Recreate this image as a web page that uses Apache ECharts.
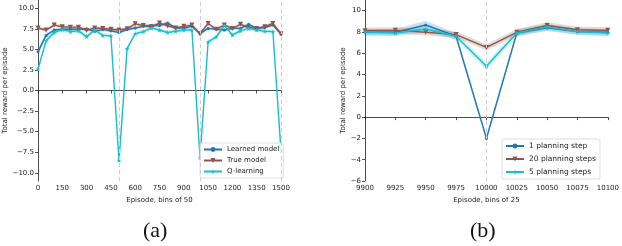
<!DOCTYPE html>
<html>
<head>
<meta charset="utf-8">
<script src="https://cdn.jsdelivr.net/npm/echarts@6/dist/echarts.min.js"></script>
<style>
html,body{margin:0;padding:0;background:#fff;}
#chart{width:622px;height:246px;}
</style>
</head>
<body>
<div id="chart"></div>
<script>
// ---------- Panel (a) data ----------
const episodesA = [0,50,100,150,200,250,300,350,400,450,500,550,600,650,700,750,800,850,900,950,1000,1050,1100,1150,1200,1250,1300,1350,1400,1450,1500];
const learnedModel = [4.7,6.7,7.35,7.45,7.45,7.45,7.5,7.2,7.4,7.25,7.05,7.4,7.6,7.8,7.9,7.9,8.2,7.6,7.6,7.8,6.9,7.55,7.45,7.35,7.55,7.55,8.05,7.55,7.65,7.95,6.85];
const trueModel    = [7.6,7.35,7.95,7.75,7.7,7.7,7.3,7.6,7.55,7.45,7.35,7.5,8.1,7.9,7.75,8.2,7.85,7.6,7.8,7.95,6.9,8.15,7.45,7.95,7.55,8.05,7.65,7.55,7.75,8.15,6.9];
const qLearning    = [2.6,6.05,7.05,7.4,7.15,7.25,6.55,7.35,6.7,6.65,-8.5,5.1,6.9,7.15,7.6,7.35,7.05,7.2,7.35,7.35,-8.2,5.9,6.5,7.9,6.75,7.25,7.55,7.35,7.2,7.15,-7.4];
const learnedSpread = [0.4,0.3,0.2,0.2,0.2,0.2,0.2,0.2,0.2,0.2,0.2,0.2,0.2,0.2,0.2,0.2,0.2,0.2,0.2,0.2,0.2,0.2,0.2,0.2,0.2,0.2,0.2,0.2,0.2,0.2,0.2];
const trueSpread    = [0.2,0.2,0.2,0.2,0.2,0.2,0.2,0.2,0.2,0.2,0.2,0.2,0.2,0.2,0.2,0.2,0.2,0.2,0.2,0.2,0.2,0.2,0.2,0.2,0.2,0.2,0.2,0.2,0.2,0.2,0.2];
const qSpread       = [0.3,0.3,0.25,0.25,0.25,0.25,0.25,0.25,0.25,0.25,0.3,0.3,0.25,0.25,0.25,0.25,0.25,0.25,0.25,0.25,0.3,0.3,0.25,0.25,0.25,0.25,0.25,0.25,0.25,0.25,0.3];
const namesA = ['Learned model','True model','Q-learning'];
const vlinesA = [500,1000,1500];
const yTicksA = [-10,-7.5,-5,-2.5,0,2.5,5,7.5,10];

// ---------- Panel (b) data ----------
const episodesB = [9900,9925,9950,9975,10000,10025,10050,10075,10100];
const plan1  = [7.97,7.97,8.65,7.6,-2.0,7.9,8.38,8.03,7.97];
const plan20 = [8.12,8.15,7.97,7.75,6.55,7.97,8.6,8.2,8.15];
const plan5  = [8.0,7.9,8.28,7.6,4.78,7.9,8.47,8.03,7.9];
const plan1Spread  = [0.3,0.3,0.4,0.3,0.3,0.3,0.3,0.3,0.3];
const plan20Spread = [0.3,0.3,0.3,0.3,0.3,0.3,0.3,0.3,0.3];
const plan5Spread  = [0.3,0.3,0.3,0.3,0.35,0.3,0.3,0.3,0.3];
const namesB = ['1 planning step','20 planning steps','5 planning steps'];
const vlinesB = [10000];
const yTicksB = [-6,-4,-2,0,2,4,6,8,10];

const BLUE='#1f77b4', BROWN='#8c564b', CYAN='#17becf';
const STAR='path://M50,0 L61,35 L98,35 L68,57 L79,91 L50,70 L21,91 L32,57 L2,35 L39,35 Z';
const FONT='DejaVu Sans';
const minus = s => String(s).replace('-', '\u2212');

function pairs(xs, ys){ return xs.map((x,i)=>[x, ys[i]]); }

// confidence band drawn as one polygon through the axes' scales
function bandSeries(idx, xs, ys, sp, color){
  return {
    type:'custom', xAxisIndex:idx, yAxisIndex:idx, silent:true, z:1,
    data: xs.map((x,i)=>[x, ys[i]-sp[i], ys[i]+sp[i]]),
    encode:{x:0, y:[1,2]},
    renderItem:function(params, api){
      if (params.dataIndexInside !== 0) return null;
      const n = params.dataInsideLength;
      const up = [], lo = [];
      for (let i=0;i<n;i++){
        const x = api.value(0,i);
        up.push(api.coord([x, api.value(2,i)]));
        lo.push(api.coord([x, api.value(1,i)]));
      }
      return {type:'polygon', shape:{points: up.concat(lo.reverse())},
        style:{fill:color, opacity:0.22}};
    }
  };
}

function lineSeries(idx, name, xs, ys, color, symbol, size, rotate){
  return {
    type:'line', name:name, xAxisIndex:idx, yAxisIndex:idx,
    data: pairs(xs, ys), symbol:symbol, symbolSize:size, symbolRotate:rotate||0,
    showAllSymbol:true,
    lineStyle:{color:color, width:1.4}, itemStyle:{color:color, borderWidth:0},
    emphasis:{disabled:true}, z:3
  };
}

function vline(idx, xs){
  return {type:'line', xAxisIndex:idx, yAxisIndex:idx, data:[], silent:true,
    markLine:{silent:true, symbol:'none', label:{show:false},
      lineStyle:{color:'#cfcfcf', type:[4,3], width:1},
      data: xs.map(v=>({xAxis:v}))}, z:0};
}

const axisLabelStyle = {fontFamily:FONT, fontSize:7, color:'#222'};

function xAxisCfg(idx, min, max, interval, name){
  return {type:'value', gridIndex:idx, min:min, max:max, interval:interval,
    name:name, nameLocation:'middle', nameGap:13,
    nameTextStyle:{fontFamily:FONT, fontSize:7, color:'#222'},
    axisLine:{lineStyle:{color:'#222', width:0.8}},
    axisTick:{show:true, inside:false, length:3, lineStyle:{color:'#222', width:0.8}},
    axisLabel:Object.assign({margin:4, showMinLabel:true, showMaxLabel:true, formatter:v=>String(v)}, axisLabelStyle),
    splitLine:{show:false}};
}

function yAxisCfg(idx, min, max, ticks, fmt, gap){
  return {type:'value', gridIndex:idx, min:min, max:max,
    name:'Total reward per episode', nameLocation:'middle', nameGap:gap,
    nameTextStyle:{fontFamily:FONT, fontSize:7, color:'#222'},
    axisLine:{show:true, lineStyle:{color:'#222', width:0.8}},
    axisTick:{show:true, length:3, customValues:ticks, lineStyle:{color:'#222', width:0.8}},
    axisLabel:Object.assign({margin:4, customValues:ticks, formatter:fmt}, axisLabelStyle),
    splitLine:{show:false}};
}

const series = [];
series.push(vline(0, vlinesA));
series.push(bandSeries(0, episodesA, learnedModel, learnedSpread, BLUE));
series.push(bandSeries(0, episodesA, trueModel, trueSpread, BROWN));
series.push(bandSeries(0, episodesA, qLearning, qSpread, CYAN));
series.push(lineSeries(0, namesA[0], episodesA, learnedModel, BLUE, 'circle', 3));
series.push(lineSeries(0, namesA[1], episodesA, trueModel, BROWN, 'triangle', 5, 180));
series.push(lineSeries(0, namesA[2], episodesA, qLearning, CYAN, STAR, 5));

series.push(vline(1, vlinesB));
series.push(bandSeries(1, episodesB, plan1, plan1Spread, BLUE));
series.push(bandSeries(1, episodesB, plan20, plan20Spread, BROWN));
series.push(bandSeries(1, episodesB, plan5, plan5Spread, CYAN));
series.push(lineSeries(1, namesB[0], episodesB, plan1, BLUE, 'circle', 3));
series.push(lineSeries(1, namesB[1], episodesB, plan20, BROWN, 'triangle', 5, 180));
series.push(lineSeries(1, namesB[2], episodesB, plan5, CYAN, STAR, 5));

const legendCommon = {
  orient:'vertical', itemWidth:18, itemHeight:6, itemGap:4,
  backgroundColor:'rgba(255,255,255,0.85)', borderColor:'#d5d5d5', borderWidth:0.8, borderRadius:2,
  padding:[3,4,3,3], selectedMode:false,
  textStyle:{fontFamily:FONT, fontSize:7, color:'#222'}
};

const option = {
  animation:false,
  backgroundColor:'#fff',
  grid:[
    {left:38, top:0, width:243, height:181, containLabel:false},
    {left:365, top:0, width:243, height:181, containLabel:false}
  ],
  xAxis:[
    xAxisCfg(0, 0, 1500, 150, 'Episode, bins of 50'),
    xAxisCfg(1, 9900, 10100, 25, 'Episode, bins of 25')
  ],
  yAxis:[
    yAxisCfg(0, -11, 11, yTicksA, v=>minus(v.toFixed(1)), 28),
    yAxisCfg(1, -6, 11, yTicksB, v=>minus(v), 17)
  ],
  legend:[
    Object.assign({}, legendCommon, {data:namesA, left:200, top:143}),
    Object.assign({}, legendCommon, {data:namesB, left:502, top:139, itemGap:5, textStyle:{fontFamily:FONT, fontSize:7.5, color:'#222'}})
  ],
  graphic:[
    {type:'text', left:143, top:220, style:{text:'(a)', font:'22px "Liberation Serif"', fill:'#111'}},
    {type:'text', left:470, top:220, style:{text:'(b)', font:'22px "Liberation Serif"', fill:'#111'}}
  ],
  series:series
};

const chart = echarts.init(document.getElementById('chart'), null, {renderer:'canvas'});
chart.setOption(option);
</script>
</body>
</html>
